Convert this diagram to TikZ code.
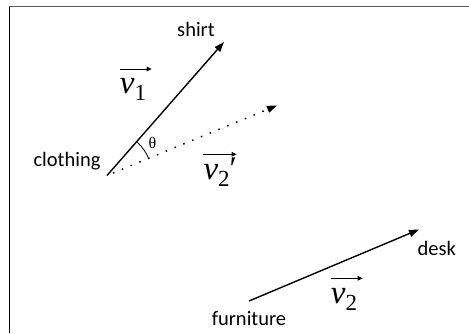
\documentclass[tikz,border=0pt]{standalone}
\usepackage{fontspec}
\setmainfont{Carlito}
\newfontfamily\tnr{Liberation Serif}
\newfontfamily\tnrit{Liberation Serif Italic}
\usetikzlibrary{arrows.meta}
\newcommand\vname[2]{{\tnrit\fontsize{33}{33}\selectfont v}{\tnr\fontsize{23}{23}\selectfont\raisebox{-7.5pt}{#1}}{\tnr\fontsize{33}{33}\selectfont #2}}
\begin{document}
\begin{tikzpicture}[x=1pt,y=-1pt,
  lbl/.style={font=\fontsize{20.5}{24}\selectfont, inner sep=0pt, anchor=base},
  vec/.style={line width=1.4pt, -{Triangle[length=10pt,width=7pt]}},
  dots/.style={line width=1.5pt, dash pattern=on 1.5pt off 8pt},
  vlabel/.style={inner sep=0pt, anchor=base west},
  ovarrow/.style={line width=0.9pt, -{Triangle[length=5pt,width=4.5pt]}}]
\useasboundingbox (0,0) rectangle (469,333);
\draw[line width=1.2pt, black!65] (8.5,6.8) -- (469,6.8);
\draw[line width=1.3pt] (9.2,6.8) -- (9.2,333);
\coordinate (o) at (107,175.5);
\coordinate (s) at (224,42);
\coordinate (ds) at (113,173);
\coordinate (d) at (277,105.5);
\coordinate (f) at (249,301);
\coordinate (k) at (419,229.5);
\draw[vec] (o) -- (s);
\draw[vec, dots] (ds) -- (d);
\draw[vec] (f) -- (k);
\draw[line width=0.8pt] (o) ++(-21.5:45) arc[start angle=-21.5, end angle=-48.6, radius=45];
\node[lbl] (shirt) at (196,36) {shirt};
\node[lbl] (clothing) at (67,166.7) {clothing};
\node[lbl] (desk) at (436.7,255) {desk};
\node[lbl] (furniture) at (249,325.7) {furniture};
\node[font=\tnr\fontsize{16}{16}\selectfont, inner sep=0pt] (theta) at (152.5,143) {θ};
\node[vlabel] (v1) at (119.7,93) {\vname{1}{}};
\draw[ovarrow] ([xshift=0.3pt,yshift=24pt]v1.base west) -- ++(31.7,0);
\node[vlabel] (v2p) at (203.3,179.3) {\vname{2}{\char"2032}};
\draw[ovarrow] ([yshift=25pt]v2p.base west) -- ++(33.4,0);
\node[vlabel] (v2) at (330.7,303.3) {\vname{2}{}};
\draw[ovarrow] ([yshift=25pt]v2.base west) -- ++(32,0);
\end{tikzpicture}
\end{document}
